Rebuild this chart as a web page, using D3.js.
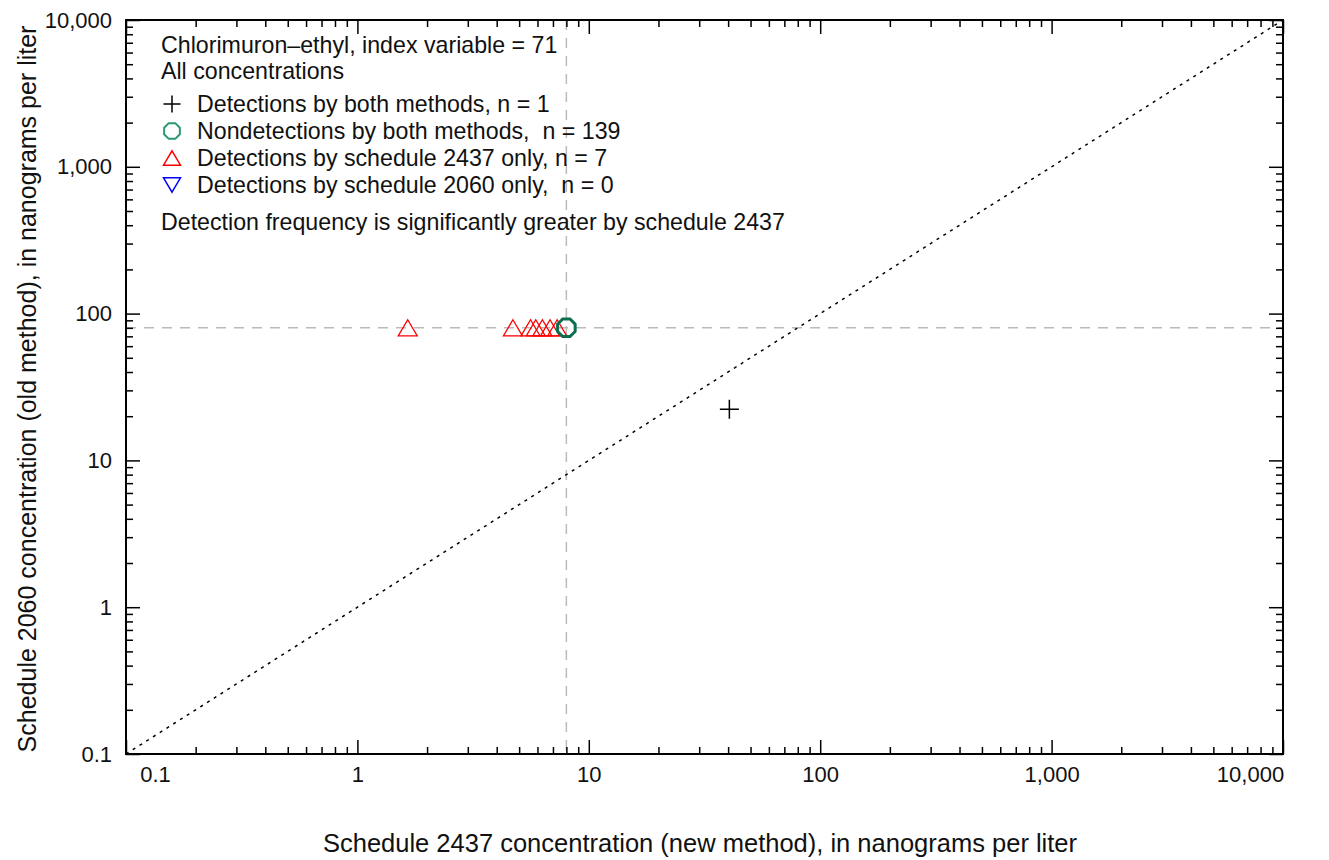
<!DOCTYPE html>
<html>
<head>
<meta charset="utf-8">
<script src="https://cdn.jsdelivr.net/npm/d3@7"></script>
<style>
body { margin: 0; background: #fff; }
text { font-family: "Liberation Sans", Arial, sans-serif; fill: #111; white-space: pre; }
</style>
</head>
<body>
<div id="chart"></div>
<script>
// values
var tickVals = [0.1, 1, 10, 100, 1000, 10000];
var tickLabels = ["0.1", "1", "10", "100", "1,000", "10,000"];
var both = [{x: 40.5, y: 22.3}];
var nondet = [{x: 8, y: 80}];
var only2437 = [{x: 1.65, y: 80}, {x: 4.7, y: 80}, {x: 5.6, y: 80}, {x: 5.9, y: 80}, {x: 6.3, y: 80}, {x: 6.8, y: 80}, {x: 7.3, y: 80}];
var only2060 = [];
var rlNew = 8, rlOld = 80;
var legendLines = [
  "Chlorimuron\u2013ethyl, index variable = 71",
  "All concentrations",
  "Detections by both methods, n = 1",
  "Nondetections by both methods,  n = 139",
  "Detections by schedule 2437 only, n = 7",
  "Detections by schedule 2060 only,  n = 0",
  "Detection frequency is significantly greater by schedule 2437"
];

var w = 1329, h = 860;
var L = 126, R = 1283, T = 20, B = 754;

var svg = d3.select("#chart").append("svg")
  .attr("width", w).attr("height", h);

var x = d3.scaleLog().domain([0.1, 10000]).range([L, R]);
var y = d3.scaleLog().domain([0.1, 10000]).range([B, T]);

// minor ticks 2..9 per decade
var minor = [];
for (var e = -1; e < 4; e++) {
  for (var k = 2; k < 10; k++) minor.push(k * Math.pow(10, e));
}

var fmt = function(d) { return tickLabels[tickVals.indexOf(d)]; };

// reference lines (grey dashed)
svg.append("line")
  .attr("x1", x(rlNew)).attr("x2", x(rlNew)).attr("y1", T).attr("y2", B)
  .attr("stroke", "#bbb").attr("stroke-width", 1.5).attr("stroke-dasharray", "10,8");
svg.append("line")
  .attr("x1", L).attr("x2", R).attr("y1", y(rlOld)).attr("y2", y(rlOld))
  .attr("stroke", "#bbb").attr("stroke-width", 1.5).attr("stroke-dasharray", "10,8");

// 1:1 line
svg.append("line")
  .attr("x1", x(0.1)).attr("y1", y(0.1)).attr("x2", x(10000)).attr("y2", y(10000))
  .attr("stroke", "#000").attr("stroke-width", 1.5).attr("stroke-dasharray", "3,5");

// axes, ticks inside on all sides
var axes = [
  {a: d3.axisBottom, s: x, t: "translate(0," + B + ")", lab: true, pad: 12},
  {a: d3.axisTop, s: x, t: "translate(0," + T + ")", lab: false, pad: 0},
  {a: d3.axisLeft, s: y, t: "translate(" + L + ",0)", lab: true, pad: 14},
  {a: d3.axisRight, s: y, t: "translate(" + R + ",0)", lab: false, pad: 0}
];
axes.forEach(function(ax) {
  var gMin = svg.append("g").attr("transform", ax.t)
    .call(ax.a(ax.s).tickValues(minor).tickSizeInner(-7).tickSizeOuter(0).tickFormat(""));
  gMin.select(".domain").remove();
  var gMaj = svg.append("g").attr("transform", ax.t)
    .call(ax.a(ax.s).tickValues(tickVals).tickSizeInner(-14).tickSizeOuter(0).tickPadding(ax.pad).tickFormat(ax.lab ? fmt : ""));
  gMaj.select(".domain").remove();
  gMaj.selectAll("text").style("font-size", "22px").attr("fill", "#111");
  ax.g = gMaj;
});
svg.selectAll("g .tick line").attr("stroke", "#000").attr("stroke-width", 1.5);
// first and last bottom labels pulled inside
axes[0].g.selectAll(".tick text")
  .attr("dx", function(d) { return d === 0.1 ? 29 : (d === 10000 ? -33 : 0); });

// frame
svg.append("rect").attr("x", L).attr("y", T).attr("width", R - L).attr("height", B - T)
  .attr("fill", "none").attr("stroke", "#000").attr("stroke-width", 2);

// symbols
function triPath(cx, cy, s, up) {
  var hh = s * 0.85;
  if (up) return "M" + cx + "," + (cy - hh / 2) + "L" + (cx + s / 2) + "," + (cy + hh / 2) + "L" + (cx - s / 2) + "," + (cy + hh / 2) + "Z";
  return "M" + cx + "," + (cy + hh / 2) + "L" + (cx + s / 2) + "," + (cy - hh / 2) + "L" + (cx - s / 2) + "," + (cy - hh / 2) + "Z";
}
function octPath(cx, cy, r) {
  var p = [];
  for (var i = 0; i < 8; i++) {
    var a = Math.PI / 8 + i * Math.PI / 4;
    p.push((cx + r * Math.cos(a)) + "," + (cy + r * Math.sin(a)));
  }
  return "M" + p.join("L") + "Z";
}
function plusPath(cx, cy, s) {
  return "M" + (cx - s / 2) + "," + cy + "H" + (cx + s / 2) + "M" + cx + "," + (cy - s / 2) + "V" + (cy + s / 2);
}

svg.selectAll(".t2437").data(only2437).enter().append("path")
  .attr("d", function(d) { return triPath(x(d.x), y(d.y), 19, true); })
  .attr("fill", "none").attr("stroke", "#ff0000").attr("stroke-width", 1.3);
svg.selectAll(".t2060").data(only2060).enter().append("path")
  .attr("d", function(d) { return triPath(x(d.x), y(d.y), 19, false); })
  .attr("fill", "none").attr("stroke", "#0000ff").attr("stroke-width", 1.3);
svg.selectAll(".nd").data(nondet).enter().append("path")
  .attr("d", function(d) { return octPath(x(d.x), y(d.y), 9.5); })
  .attr("fill", "none").attr("stroke", "#0b6e4f").attr("stroke-width", 3);
svg.selectAll(".both").data(both).enter().append("path")
  .attr("d", function(d) { return plusPath(x(d.x), y(d.y), 19); })
  .attr("fill", "none").attr("stroke", "#000").attr("stroke-width", 1.5);

// legend
var lg = svg.append("g");
var lineY = [45, 71, 104, 131, 158, 185, 222];
var symX = 172, txtX = 197;
lg.selectAll("text").data(legendLines).enter().append("text")
  .attr("x", function(d, i) { return (i < 2 || i === 6) ? 161 : txtX; })
  .attr("y", function(d, i) { return lineY[i]; })
  .attr("dy", "0.35em")
  .style("font-size", "23.2px")
  .text(function(d) { return d; });
lg.append("path").attr("d", plusPath(symX, lineY[2], 17)).attr("stroke", "#000").attr("stroke-width", 1.5);
lg.append("path").attr("d", octPath(symX, lineY[3], 8.5)).attr("fill", "none").attr("stroke", "#2a9a6e").attr("stroke-width", 2);
lg.append("path").attr("d", triPath(symX, lineY[4], 17, true)).attr("fill", "none").attr("stroke", "#ff0000").attr("stroke-width", 1.5);
lg.append("path").attr("d", triPath(symX, lineY[5], 17, false)).attr("fill", "none").attr("stroke", "#0000ff").attr("stroke-width", 1.5);

// axis titles
svg.append("text").attr("x", 700).attr("y", 843).attr("dy", "0.35em")
  .attr("text-anchor", "middle").style("font-size", "25.5px")
  .text("Schedule 2437 concentration (new method), in nanograms per liter");
svg.append("text").attr("transform", "translate(27," + ((T + B) / 2 + 2) + ") rotate(-90)")
  .attr("dy", "0.35em").attr("text-anchor", "middle").style("font-size", "25px")
  .text("Schedule 2060 concentration (old method), in nanograms per liter");
</script>
</body>
</html>
